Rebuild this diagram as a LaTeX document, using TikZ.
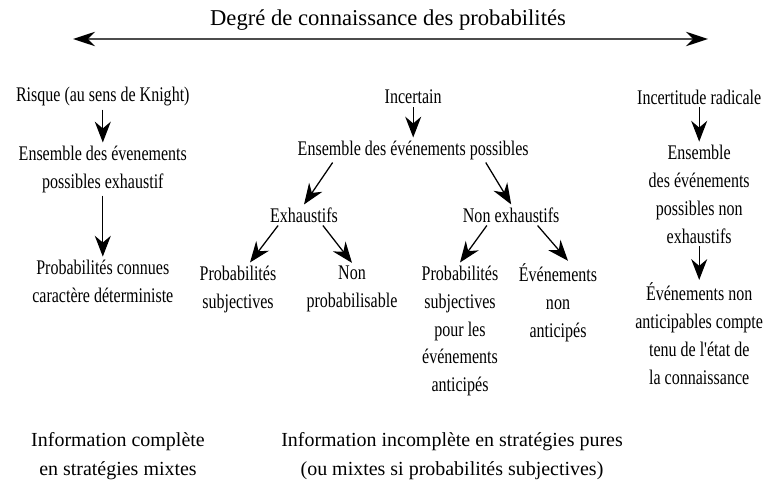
\documentclass[tikz,border=0pt]{standalone}
\usepackage{fontspec}
\usepackage{tikz}
\usetikzlibrary{arrows.meta,positioning,calc}
\setmainfont{Liberation Serif}
\newfontfamily\etroit[FakeStretch=0.77]{Liberation Serif}

\begin{document}
\begin{tikzpicture}[
    texte/.style={font=\etroit\fontsize{14.8}{19.9}\selectfont, align=center, inner sep=2pt},
    bas/.style={font=\fontsize{14.2}{21}\selectfont, align=center},
    fleche/.style={-{Stealth[length=0.52cm, width=0.4cm]}, line width=0.9pt}
]
    \useasboundingbox (0,0) rectangle (19.2,-12.05);

    % Titre et axe
    \node[font=\fontsize{16.1}{19}\selectfont] (titre) at (9.7,-0.5) {Degré de connaissance des probabilités};
    \coordinate (gauche) at (1.825,-0.975);
    \coordinate (droite) at (17.7,-0.975);
    \draw[{Stealth[length=0.55cm, width=0.36cm, color=black]}-{Stealth[length=0.55cm, width=0.36cm, color=black]}, draw=black!70, line width=1.2pt] (gauche) -- (droite);

    % Risque
    \node[texte] (risque) at (2.57,-2.425) {Risque (au sens de Knight)};
    \node[texte] (ens1) at (2.57,-4.225) {Ensemble des évenements\\possibles exhaustif};
    \node[texte] (conn1) at (2.57,-7.025) {Probabilités connues\\caractère déterministe};

    % Incertain
    \node[texte] (incertain) at (10.33,-2.425) {Incertain};
    \node[texte] (ens2) at (10.33,-3.75) {Ensemble des événements possibles};
    \node[texte] (exh) at (7.6,-5.375) {Exhaustifs};
    \node[texte] (nonexh) at (12.78,-5.375) {Non exhaustifs};
    \node[texte] (probsub) at (5.95,-7.225) {Probabilités\\subjectives};
    \node[texte] (nonprob) at (8.8,-7.225) {Non\\probabilisable};
    \node[texte] (probsub2) at (11.5,-8.275) {Probabilités\\subjectives\\pour les\\événements\\anticipés};
    \node[texte] (evnon) at (13.95,-7.575) {Événements\\non\\anticipés};

    % Incertitude radicale
    \node[texte] (radicale) at (17.48,-2.425) {Incertitude radicale};
    \node[texte] (ens3) at (17.48,-4.85) {Ensemble\\des événements\\possibles non\\exhaustifs};
    \node[texte] (evnonant) at (17.48,-8.35) {Événements non\\anticipables compte\\tenu de l'état de\\la connaissance};

    % Information
    \node[bas] (infocomp) at (2.95,-11.4) {Information complète\\en stratégies mixtes};
    \node[bas] (infoincomp) at (11.3,-11.4) {Information incomplète en stratégies pures\\(ou mixtes si probabilités subjectives)};

    % Fleches
    \draw[fleche] (risque) -- (ens1);
    \draw[fleche] (ens1) -- (conn1);
    \draw[fleche] (incertain) -- (ens2);
    \draw[fleche] ([xshift=0.95cm]ens2.south west) -- (exh.north);
    \draw[fleche] ([xshift=-1.15cm]ens2.south east) -- (nonexh.north);
    \draw[fleche] ([xshift=0.275cm]exh.south west) -- ([xshift=0.3cm]probsub.north);
    \draw[fleche] ([xshift=-0.45cm]exh.south east) -- (nonprob.north);
    \draw[fleche] ([xshift=0.675cm]nonexh.south west) -- (probsub2.north);
    \draw[fleche] ([xshift=-0.625cm]nonexh.south east) -- ([xshift=0.25cm]evnon.north);
    \draw[fleche] (radicale) -- (ens3);
    \draw[fleche] (ens3) -- (evnonant);
\end{tikzpicture}
\end{document}
